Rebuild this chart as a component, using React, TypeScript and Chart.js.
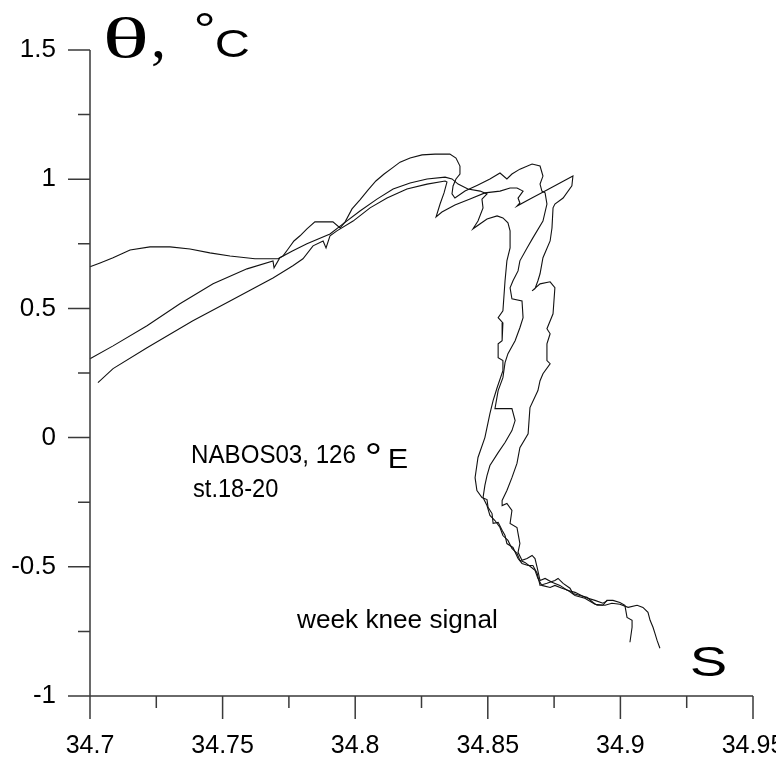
import React, { useEffect, useRef } from "react";
import { Chart, registerables } from "chart.js";

Chart.register(...registerables);

// ---------- data ----------
const xTickValues = [34.7, 34.75, 34.8, 34.85, 34.9, 34.95];
const xTickLabels = ["34.7", "34.75", "34.8", "34.85", "34.9", "34.95"];
const yTickValues = [-1, -0.5, 0, 0.5, 1, 1.5];
const yTickLabels = ["-1", "-0.5", "0", "0.5", "1", "1.5"];

// [salinity, potential temperature]
const st18: [number, number][] = [
  [34.7, 0.661], [34.7038, 0.676], [34.7087, 0.696], [34.7151, 0.726], [34.7226, 0.738], [34.7302, 0.738],
  [34.7377, 0.73], [34.7452, 0.715], [34.7528, 0.703], [34.7622, 0.692], [34.7709, 0.692], [34.7728, 0.703],
  [34.7747, 0.73], [34.7769, 0.761], [34.7792, 0.781], [34.7818, 0.808], [34.7848, 0.835], [34.7886, 0.835],
  [34.7916, 0.835], [34.7943, 0.811], [34.7962, 0.835], [34.7988, 0.885], [34.8018, 0.92], [34.8048, 0.958],
  [34.8078, 0.993], [34.8109, 1.02], [34.8139, 1.043], [34.8169, 1.066], [34.8207, 1.082], [34.8252, 1.094],
  [34.8301, 1.097], [34.8357, 1.097], [34.838, 1.082], [34.8395, 1.051], [34.8395, 1.02], [34.838, 1.001],
  [34.8369, 0.974], [34.8365, 0.943], [34.8376, 0.927], [34.8414, 0.954], [34.8463, 0.978], [34.8508, 1.001],
  [34.8546, 1.024], [34.8572, 1.001], [34.8591, 1.02], [34.8621, 1.039], [34.8667, 1.059], [34.8697, 1.051],
  [34.8708, 1.012], [34.8697, 0.981], [34.8704, 0.954], [34.8716, 0.947], [34.8723, 0.904], [34.8708, 0.838],
  [34.867, 0.773], [34.8648, 0.734], [34.8621, 0.684], [34.8614, 0.645], [34.8595, 0.607], [34.8584, 0.58],
  [34.8591, 0.537], [34.8629, 0.529], [34.8633, 0.464], [34.8621, 0.425], [34.8603, 0.375], [34.8576, 0.325],
  [34.8565, 0.29], [34.8557, 0.232], [34.8539, 0.182], [34.8527, 0.112], [34.8591, 0.112], [34.8603, 0.066],
  [34.8591, 0.027], [34.8565, -0.019], [34.8539, -0.058], [34.8508, -0.108], [34.8497, -0.147], [34.8489, -0.185],
  [34.8482, -0.232], [34.8497, -0.263], [34.8508, -0.301], [34.8527, -0.321], [34.8546, -0.348], [34.8557, -0.379],
  [34.8576, -0.398], [34.8591, -0.429], [34.861, -0.448], [34.8621, -0.475], [34.864, -0.483], [34.8659, -0.498],
  [34.8678, -0.514], [34.8689, -0.545], [34.8704, -0.572], [34.8735, -0.58], [34.8753, -0.572], [34.878, -0.583],
  [34.8802, -0.591], [34.8829, -0.611], [34.8866, -0.622], [34.8904, -0.645], [34.8942, -0.649], [34.8968, -0.641],
  [34.8998, -0.645], [34.9029, -0.657], [34.9063, -0.649], [34.9085, -0.657], [34.9104, -0.676], [34.9112, -0.707],
  [34.9123, -0.734], [34.913, -0.757], [34.9138, -0.784], [34.9149, -0.815],
];

const st19: [number, number][] = [
  [34.7, 0.305], [34.7087, 0.355], [34.7215, 0.433], [34.7339, 0.518], [34.7464, 0.595], [34.7592, 0.653],
  [34.769, 0.684], [34.7694, 0.657], [34.7716, 0.696], [34.7765, 0.723], [34.7818, 0.75], [34.7905, 0.788],
  [34.7954, 0.827], [34.8018, 0.877], [34.8082, 0.923], [34.8143, 0.962], [34.8207, 0.985], [34.8271, 1.001],
  [34.8339, 1.008], [34.8365, 1.001], [34.8388, 0.981], [34.8425, 0.962], [34.8471, 0.954], [34.8497, 0.943],
  [34.8478, 0.923], [34.8482, 0.889], [34.8463, 0.838], [34.8444, 0.808], [34.8497, 0.846], [34.8535, 0.858],
  [34.8557, 0.85], [34.8576, 0.831], [34.8584, 0.8], [34.8584, 0.734], [34.8572, 0.684], [34.8565, 0.607],
  [34.8557, 0.491], [34.8539, 0.464], [34.8557, 0.444], [34.8554, 0.375], [34.8539, 0.363], [34.8539, 0.309],
  [34.8557, 0.298], [34.8557, 0.259], [34.8535, 0.193], [34.852, 0.143], [34.8508, 0.093], [34.8489, 0.0],
  [34.8463, -0.077], [34.8452, -0.155], [34.8459, -0.205], [34.8478, -0.232], [34.8497, -0.24], [34.8501, -0.27],
  [34.8516, -0.294], [34.852, -0.332], [34.8539, -0.328], [34.8554, -0.359], [34.8565, -0.379], [34.8572, -0.41],
  [34.8595, -0.425], [34.8614, -0.468], [34.8629, -0.487], [34.8652, -0.495], [34.867, -0.495], [34.8686, -0.525],
  [34.8697, -0.572], [34.8723, -0.564], [34.8753, -0.553], [34.8765, -0.545], [34.8784, -0.564], [34.881, -0.583],
  [34.8821, -0.603], [34.8848, -0.611], [34.8874, -0.618], [34.8897, -0.638], [34.8912, -0.649], [34.8934, -0.649],
  [34.8949, -0.63], [34.8972, -0.63], [34.8998, -0.638], [34.9017, -0.649], [34.9025, -0.696], [34.9044, -0.707],
  [34.9044, -0.734], [34.9036, -0.792],
];

const st20: [number, number][] = [
  [34.703, 0.213], [34.7087, 0.267], [34.7215, 0.348], [34.7388, 0.452], [34.7528, 0.529], [34.769, 0.618],
  [34.7765, 0.665], [34.7803, 0.692], [34.7841, 0.742], [34.7879, 0.761], [34.789, 0.734], [34.7905, 0.781],
  [34.7931, 0.8], [34.7992, 0.838], [34.8056, 0.889], [34.812, 0.927], [34.8195, 0.962], [34.8271, 0.981],
  [34.8339, 0.993], [34.8346, 0.989], [34.8335, 0.947], [34.832, 0.904], [34.8305, 0.854], [34.8327, 0.873],
  [34.8376, 0.9], [34.8433, 0.923], [34.8489, 0.947], [34.8546, 0.954], [34.8584, 0.966], [34.861, 0.966],
  [34.8633, 0.954], [34.8614, 0.927], [34.8621, 0.908], [34.861, 0.896], [34.8659, 0.923], [34.8716, 0.954],
  [34.8772, 0.985], [34.8821, 1.012], [34.8817, 0.974], [34.8784, 0.927], [34.8753, 0.904], [34.8746, 0.889],
  [34.8742, 0.811], [34.8735, 0.761], [34.8708, 0.696], [34.8697, 0.634], [34.8689, 0.607], [34.8678, 0.576],
  [34.8667, 0.568], [34.8697, 0.595], [34.8735, 0.603], [34.8753, 0.58], [34.8746, 0.479], [34.8723, 0.421],
  [34.8735, 0.402], [34.8723, 0.363], [34.8723, 0.298], [34.8735, 0.286], [34.8708, 0.247], [34.8697, 0.22],
  [34.8689, 0.182], [34.8659, 0.116], [34.8652, 0.015], [34.8621, -0.039], [34.861, -0.1], [34.8591, -0.155],
  [34.8572, -0.205], [34.8554, -0.243], [34.8554, -0.263], [34.8572, -0.255], [34.8591, -0.282], [34.8584, -0.332],
  [34.861, -0.348], [34.8614, -0.371], [34.8621, -0.41], [34.8614, -0.444], [34.8629, -0.475], [34.8648, -0.468],
  [34.8667, -0.456], [34.8678, -0.468], [34.8686, -0.502], [34.8697, -0.553], [34.8716, -0.545], [34.8742, -0.56],
  [34.8772, -0.572], [34.8799, -0.591], [34.8829, -0.599], [34.8866, -0.618], [34.8904, -0.63], [34.8934, -0.641],
  [34.8953, -0.63],
];

const stations = [st18, st19, st20];
const stationNames = ["st.18", "st.19", "st.20"];

const thetaSymbol = "θ";
const thetaComma = ",";
const degreeSign = "°";
const celsiusLetter = "C";
const salinityLabel = "S";
const cruiseLabel = "NABOS03, 126";
const eastLabel = "E";
const stationsLabel = "st.18-20";
const signalLabel = "week knee signal";

// ---------- styling ----------
const SANS = '"Liberation Sans", Arial, sans-serif';
const SERIF = '"Liberation Serif", "Times New Roman", serif';
const AXIS_COLOR = "#3a3a3a";
const LINE_COLOR = "#111111";

// draw text with its ink box fitted to a given left edge / width;
// y is the baseline, or the ink top when alignTop is set
function fitText(
  ctx: CanvasRenderingContext2D,
  text: string,
  font: string,
  inkLeft: number,
  y: number,
  inkWidth?: number,
  alignTop = false
) {
  ctx.save();
  ctx.font = font;
  ctx.textAlign = "left";
  ctx.textBaseline = "alphabetic";
  ctx.fillStyle = "#000";
  const m = ctx.measureText(text);
  const w = m.actualBoundingBoxLeft + m.actualBoundingBoxRight;
  const sx = inkWidth && w > 0 ? inkWidth / w : 1;
  const baseline = alignTop ? y + m.actualBoundingBoxAscent : y;
  ctx.translate(inkLeft + m.actualBoundingBoxLeft * sx, baseline);
  ctx.scale(sx, 1);
  ctx.fillText(text, 0, 0);
  ctx.restore();
}

const decorPlugin = {
  id: "decor",
  afterDraw(chart: any) {
    const { ctx, chartArea } = chart;
    const xs = chart.scales.x;
    const ys = chart.scales.y;
    const left = chartArea.left;
    const bottom = chartArea.bottom;

    ctx.save();
    ctx.strokeStyle = AXIS_COLOR;
    ctx.lineWidth = 1.5;
    ctx.beginPath();
    ctx.moveTo(left, ys.getPixelForValue(yTickValues[yTickValues.length - 1]));
    ctx.lineTo(left, bottom);
    ctx.moveTo(left, bottom);
    ctx.lineTo(xs.getPixelForValue(xTickValues[xTickValues.length - 1]), bottom);
    yTickValues.forEach((v, i) => {
      const py = ys.getPixelForValue(v);
      ctx.moveTo(left - 22, py);
      ctx.lineTo(left, py);
      if (i < yTickValues.length - 1) {
        const pm = ys.getPixelForValue((v + yTickValues[i + 1]) / 2);
        ctx.moveTo(left - 12, pm);
        ctx.lineTo(left, pm);
      }
    });
    xTickValues.forEach((v, i) => {
      const px = xs.getPixelForValue(v);
      ctx.moveTo(px, bottom);
      ctx.lineTo(px, bottom + 23);
      if (i < xTickValues.length - 1) {
        const pm = xs.getPixelForValue((v + xTickValues[i + 1]) / 2);
        ctx.moveTo(pm, bottom);
        ctx.lineTo(pm, bottom + 12);
      }
    });
    ctx.stroke();
    ctx.restore();

    // axis titles
    fitText(ctx, thetaSymbol, `56px ${SERIF}`, 106, 57, 40);
    fitText(ctx, thetaComma, `60px ${SERIF}`, 153, 57);
    fitText(ctx, degreeSign, `46px ${SANS}`, 196, 13, 17, true);
    fitText(ctx, celsiusLetter, `38px ${SANS}`, 216, 57, 32);
    fitText(ctx, salinityLabel, `43px ${SANS}`, 691, 676, 34);

    // annotations
    fitText(ctx, cruiseLabel, `25px ${SANS}`, 193, 463, 162);
    fitText(ctx, degreeSign, `40px ${SANS}`, 367, 442, 13, true);
    fitText(ctx, eastLabel, `27px ${SANS}`, 390, 468, 17);
    fitText(ctx, stationsLabel, `26px ${SANS}`, 193, 497, 85);
    fitText(ctx, signalLabel, `26px ${SANS}`, 296, 628, 201);
  },
};

export default function App() {
  const canvasRef = useRef<HTMLCanvasElement | null>(null);

  useEffect(() => {
    document.body.style.margin = "0";
    const canvas = canvasRef.current;
    if (!canvas) return;
    const chart = new Chart(canvas, {
      type: "scatter",
      data: {
        datasets: stations.map((st, i) => ({
          label: stationNames[i],
          data: st.map(([s, t]) => ({ x: s, y: t })),
          showLine: true,
          borderColor: LINE_COLOR,
          backgroundColor: LINE_COLOR,
          borderWidth: 1.1,
          pointRadius: 0,
          tension: 0,
          clip: false as any,
        })),
      },
      options: {
        responsive: false,
        animation: false,
        devicePixelRatio: 1,
        layout: { padding: { left: 0, right: 23, top: 50, bottom: 0 } },
        plugins: {
          legend: { display: false },
          tooltip: { enabled: false },
          title: { display: false },
        },
        scales: {
          x: {
            type: "linear",
            min: xTickValues[0],
            max: xTickValues[xTickValues.length - 1],
            grid: { display: false, drawTicks: false },
            border: { display: false },
            ticks: {
              color: "#000",
              font: { family: SANS, size: 25 },
              padding: 35,
              maxRotation: 0,
              autoSkip: false,
              callback: (_v: any, i: number) => xTickLabels[i],
            },
            afterBuildTicks: (s: any) => {
              s.ticks = xTickValues.map((v) => ({ value: v }));
            },
            afterFit: (s: any) => {
              s.height = 66;
              s.paddingLeft = 0;
              s.paddingRight = 0;
            },
          },
          y: {
            type: "linear",
            min: yTickValues[0],
            max: yTickValues[yTickValues.length - 1],
            grid: { display: false, drawTicks: false },
            border: { display: false },
            ticks: {
              color: "#000",
              font: { family: SANS, size: 26 },
              padding: 34,
              autoSkip: false,
              callback: (_v: any, i: number) => yTickLabels[i],
            },
            afterBuildTicks: (s: any) => {
              s.ticks = yTickValues.map((v) => ({ value: v }));
            },
            afterFit: (s: any) => {
              s.width = 90;
              s.paddingTop = 0;
              s.paddingBottom = 0;
            },
          },
        },
      },
      plugins: [decorPlugin],
    });
    return () => chart.destroy();
  }, []);

  return (
    <div style={{ width: 776, height: 762, background: "#fff" }}>
      <canvas ref={canvasRef} width={776} height={762} style={{ display: "block" }} />
    </div>
  );
}
